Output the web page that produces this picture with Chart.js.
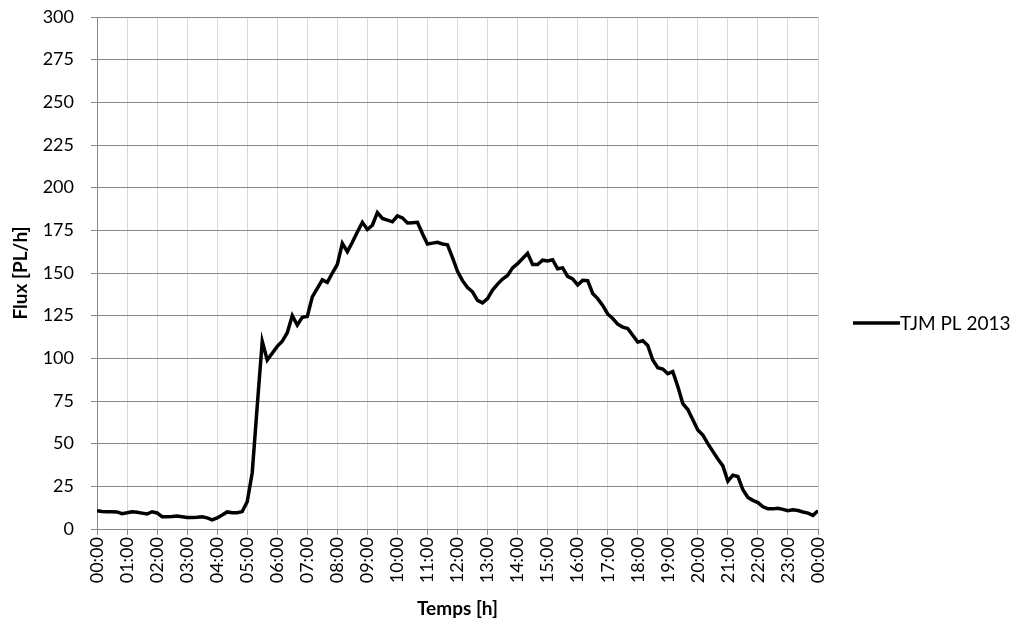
<!DOCTYPE html>
<html>
<head>
<meta charset="utf-8">
<script src="https://cdn.jsdelivr.net/npm/chart.js@4.4.1/dist/chart.umd.min.js"></script>
<style>
  html, body { margin: 0; padding: 0; background: #fff; }
  #wrap { width: 1020px; height: 632px; position: relative; }
</style>
</head>
<body>
<div id="wrap"><canvas id="chart"></canvas></div>
<script>
// 10-minute values, 00:00 -> 24:00
const stepMinutes = 10;
const seriesName = 'TJM PL 2013';
const flux = [
    10.7, 10.3, 10.1, 10.1, 10.0, 9.0, 9.5, 10.1, 9.8, 9.3, 8.8, 10.1,
    9.4, 7.2, 7.2, 7.3, 7.6, 7.2, 6.8, 6.7, 6.9, 7.2, 6.5, 5.4,
    6.5, 8.2, 10.0, 9.5, 9.5, 10.2, 16, 33, 72, 110, 99, 103,
    107, 110, 115, 125, 119.5, 124, 124.5, 136, 141, 146, 144.5, 150,
    155, 167.4, 162.5, 168, 174, 179.7, 175.5, 178, 185.4, 182, 181, 180,
    183.5, 182.3, 179.3, 179.5, 179.7, 173, 167, 167.5, 168, 167, 166.5, 159,
    151, 145.5, 141.5, 139, 134, 132.5, 135, 140, 143.5, 146.5, 148.5, 153,
    155.5, 158.5, 161.5, 155, 155, 157.5, 157, 157.8, 152.5, 153, 148, 146.5,
    143, 145.7, 145.5, 138, 135, 131, 126, 123.3, 120, 118.3, 117.5, 113.5,
    109.5, 110.3, 107.5, 99, 94.5, 93.7, 91, 92.2, 83.5, 73.5, 70, 64,
    58, 55, 50, 45.5, 41, 37, 28, 31.5, 30.8, 23, 18.5, 16.8,
    15.5, 13, 11.9, 11.8, 12.2, 11.5, 10.7, 11.3, 10.8, 10, 9.3, 8,
    10.7
];
const yMax = 300;
const yStep = 25;
const hourTicks = 24;

const FONT = 'Lato, "Open Sans", sans-serif';
const points = flux.map((v, i) => ({ x: i * stepMinutes / 60, y: v }));

function hh(v) {
    const h = Math.round(v) % 24;
    return (h < 10 ? '0' : '') + h + ':00';
}

// legend drawn at the right, like the spreadsheet one
const sideLegend = {
    id: 'sideLegend',
    afterDraw(chart) {
        const ctx = chart.ctx;
        const y = (chart.chartArea.top + chart.chartArea.bottom) / 2 + 50;
        ctx.save();
        ctx.strokeStyle = '#000';
        ctx.lineWidth = 3.5;
        ctx.beginPath();
        ctx.moveTo(853, y);
        ctx.lineTo(900, y);
        ctx.stroke();
        ctx.fillStyle = '#000';
        ctx.font = '19px ' + FONT;
        ctx.textBaseline = 'middle';
        ctx.fillText(seriesName, 900, y + 1);
        ctx.restore();
    }
};

new Chart(document.getElementById('chart'), {
    type: 'line',
    data: {
        datasets: [{
            label: seriesName,
            data: points,
            borderColor: '#000',
            borderWidth: 3.5,
            pointRadius: 0,
            tension: 0,
            fill: false
        }]
    },
    options: {
        responsive: true,
        maintainAspectRatio: false,
        animation: false,
        layout: { padding: { top: 17, right: 202, bottom: 0, left: 0 } },
        plugins: {
            legend: { display: false },
            tooltip: { enabled: false }
        },
        scales: {
            x: {
                type: 'linear',
                min: 0,
                max: hourTicks,
                afterFit: (scale) => {
                    scale.height = 103;
                    scale.paddingLeft = 0;
                    scale.paddingRight = 0;
                },
                grid: { color: '#d9d9d9', tickColor: '#868686', tickLength: 6, lineWidth: 1 },
                border: { color: '#868686', width: 1 },
                ticks: {
                    stepSize: 1,
                    autoSkip: false,
                    minRotation: 90,
                    maxRotation: 90,
                    padding: 2,
                    color: '#000',
                    font: { family: FONT, size: 18 },
                    callback: (v) => hh(v)
                },
                title: {
                    display: true,
                    text: 'Temps [h]',
                    color: '#000',
                    font: { family: FONT, size: 19, weight: 'bold' },
                    padding: { top: 0, bottom: 12 }
                }
            },
            y: {
                min: 0,
                max: yMax,
                afterFit: (scale) => {
                    scale.width = 97;
                    scale.paddingTop = 0;
                    scale.paddingBottom = 0;
                },
                grid: { color: '#878787', tickColor: '#868686', tickLength: 6, lineWidth: 1 },
                border: { color: '#868686', width: 1 },
                ticks: {
                    stepSize: yStep,
                    padding: 17,
                    color: '#000',
                    font: { family: FONT, size: 18 }
                },
                title: {
                    display: true,
                    text: 'Flux [PL/h]',
                    color: '#000',
                    font: { family: FONT, size: 19, weight: 'bold' },
                    padding: { top: 9, bottom: 0 }
                }
            }
        }
    },
    plugins: [sideLegend]
});
</script>
</body>
</html>
